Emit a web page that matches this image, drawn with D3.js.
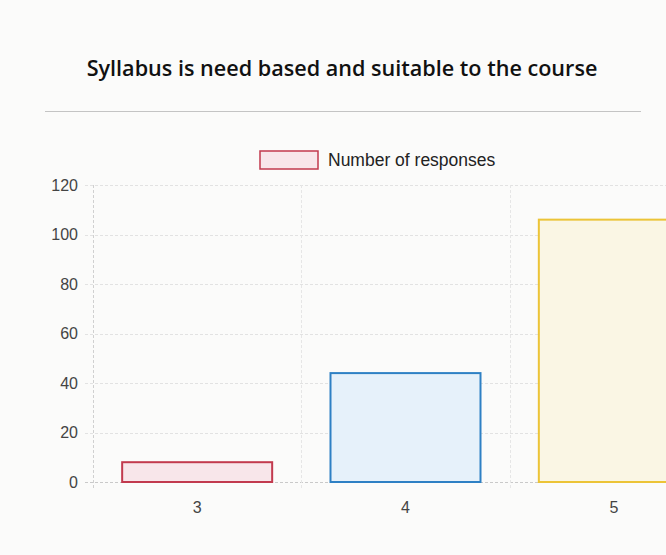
<!DOCTYPE html>
<html>
<head>
<meta charset="utf-8">
<script src="https://cdn.jsdelivr.net/npm/d3@7"></script>
<style>
  html, body { margin: 0; padding: 0; background: #fbfbfa; }
  svg { display: block; }
</style>
</head>
<body>
<svg id="chart"></svg>
<script>
// Chart data
const categories = ["3", "4", "5"]
const responses = [8, 44, 106]
const yTicks = [0, 20, 40, 60, 80, 100, 120]
const seriesLabel = "Number of responses"
const titleText = "Syllabus is need based and suitable to the course"

const WIDTH = 666
const HEIGHT = 555
const PLOT = { left: 93, right: 718, top: 185, bottom: 482 }

// chart.js default palette, washed out a bit like the print
const borders = ["#c23a4e", "#2e80c4", "#ecc437"]
const fills = ["#f8e6ea", "#e6f1fa", "#faf6e4"]

const svg = d3.select("#chart").attr("width", WIDTH).attr("height", HEIGHT)

// Title + separator rule
svg.append("text")
  .attr("x", 342)
  .attr("y", 76)
  .attr("text-anchor", "middle")
  .style("font-family", "'Open Sans', sans-serif")
  .style("font-weight", 600)
  .style("font-size", "21.6px")
  .style("fill", "#111")
  .text(titleText)

svg.append("line")
  .attr("x1", 45).attr("x2", 641)
  .attr("y1", 111.5).attr("y2", 111.5)
  .style("stroke", "#c4c4c4")
  .style("stroke-width", 1)

const x = d3.scaleBand()
  .domain(categories)
  .range([PLOT.left, PLOT.right])
  .paddingInner(0.28)
  .paddingOuter(0.14)

const y = d3.scaleLinear().domain([0, 120]).range([PLOT.bottom, PLOT.top])

const step = x.step()
const grid = svg.append("g").attr("class", "grid")

// horizontal gridlines
grid.selectAll("line.h")
  .data(yTicks)
  .join("line")
  .attr("class", "h")
  .attr("x1", PLOT.left - 8)
  .attr("x2", PLOT.right)
  .attr("y1", (d) => Math.round(y(d)) + 0.5)
  .attr("y2", (d) => Math.round(y(d)) + 0.5)
  .style("stroke", (d) => (d === 0 ? "#c9c9c9" : "#e2e2e2"))
  .style("stroke-dasharray", "3,2")

// vertical gridlines at category boundaries
const vLines = categories.map((c) => x(c) - step * 0.14)
grid.selectAll("line.v")
  .data(vLines)
  .join("line")
  .attr("class", "v")
  .attr("x1", (d) => Math.round(d) + 0.5)
  .attr("x2", (d) => Math.round(d) + 0.5)
  .attr("y1", PLOT.top)
  .attr("y2", PLOT.bottom + 8)
  .style("stroke", (d, i) => (i === 0 ? "#d0d0d0" : "#e6e6e6"))
  .style("stroke-dasharray", "3,2")

const tickFont = (g) => g.selectAll("text")
  .style("font-family", "'Liberation Sans', Arial, sans-serif")
  .style("font-size", "16px")
  .style("fill", "#444")

// y axis labels
const yAxis = d3.axisLeft(y).tickValues(yTicks).tickSize(0).tickPadding(15)
svg.append("g")
  .attr("transform", `translate(${PLOT.left},0)`)
  .call(yAxis)
  .call((g) => g.select(".domain").remove())
  .call(tickFont)

// x axis labels
const xAxis = d3.axisBottom(x).tickSize(0).tickPadding(20)
svg.append("g")
  .attr("transform", `translate(0,${PLOT.bottom})`)
  .call(xAxis)
  .call((g) => g.select(".domain").remove())
  .call(tickFont)

// bars
svg.append("g")
  .selectAll("rect")
  .data(responses)
  .join("rect")
  .attr("x", (d, i) => x(categories[i]))
  .attr("y", (d) => y(d))
  .attr("width", x.bandwidth())
  .attr("height", (d) => y(0) - y(d))
  .style("fill", (d, i) => fills[i])
  .style("stroke", (d, i) => borders[i])
  .style("stroke-width", 2)

// legend
const legend = svg.append("g").attr("transform", "translate(260,151)")
legend.append("rect")
  .attr("width", 58)
  .attr("height", 18)
  .style("fill", fills[0])
  .style("stroke", borders[0])
  .style("stroke-width", 1.5)
legend.append("text")
  .attr("x", 68)
  .attr("y", 15)
  .style("font-family", "'Liberation Sans', Arial, sans-serif")
  .style("font-size", "17.5px")
  .style("fill", "#222")
  .text(seriesLabel)
</script>
</body>
</html>
